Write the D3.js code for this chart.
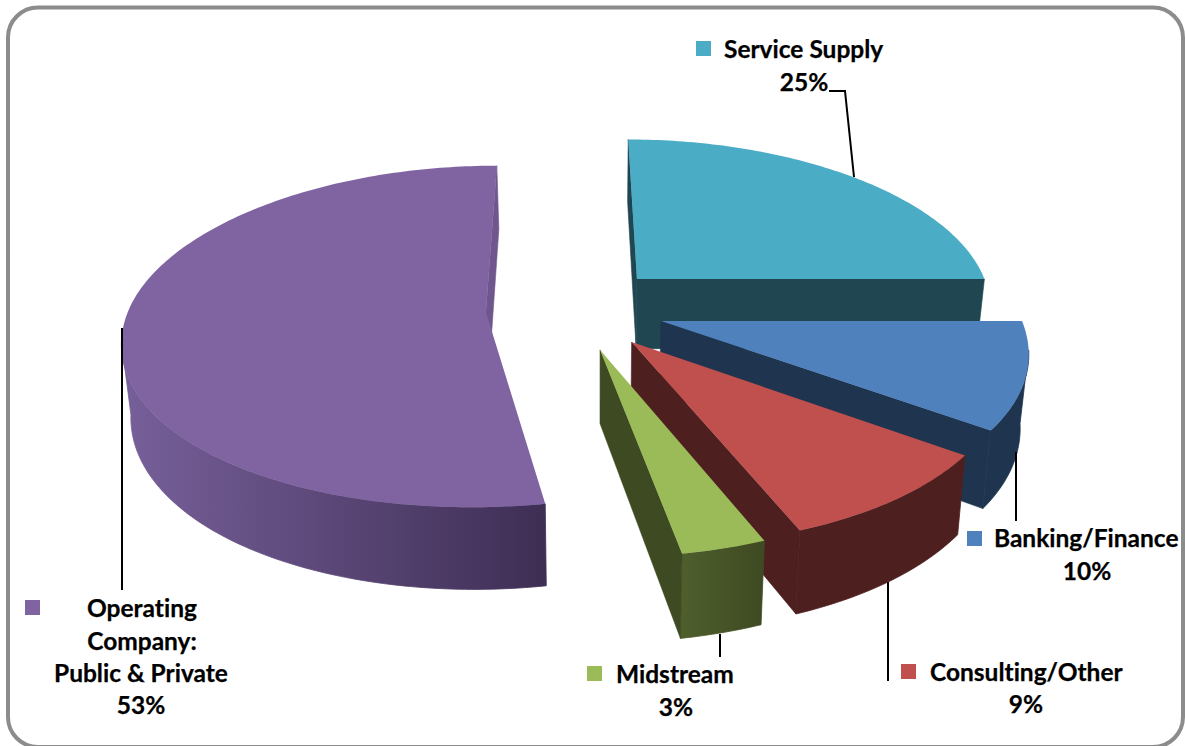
<!DOCTYPE html>
<html><head><meta charset="utf-8">
<script src="https://cdn.jsdelivr.net/npm/d3@7"></script>
<style>html,body{margin:0;padding:0;background:#fff;overflow:hidden}svg{display:block}text{font-family:Lato,sans-serif;font-weight:700;fill:#000;stroke:#000;stroke-width:.25px;font-variant-ligatures:none;font-feature-settings:"liga" 0}</style>
</head><body><svg id="c" width="1185" height="746"></svg>
<script>
// Data (clockwise from 12 o'clock)
const categories = ["Service Supply","Banking/Finance","Consulting/Other","Midstream","Operating Company: Public & Private"];
const shares = [25,10,9,3.2,52.8];
const topColors = ["#4BACC6","#4F81BD","#C0504D","#9BBB59","#8064A2"];
const wallColors = ["#1F4651","#1F344F","#4E1F1F","#3E4A22","#6F578E"];
const sideLeft  = ["#1F4651","#1F344F","#4E1F1F","#4E5E2C","#77609A"];
const sideRight = ["#1F4651","#1F344F","#4E1F1F","#3E4A22","#3E2E54"];
// Explosion of each slice on the pie plane
const explodeX = [41.5,64,34,3,-112];
const explodeZ = [-92,0,44,60,-19];

// Camera
const vx=597, vy=-1000, K=1321, f=2800, Rx=361, Rz=365, backZ=0.97, H=72, lean=0.02, shear=0.012;
const widen = d3.scaleLinear().domain([-800,321]).range([0,1]);
const project = (x,z,down) => {
  const s=f/(f-z);
  const sy=vy+K*s;
  const sx=vx+x*widen(sy);
  return down ? [sx-(sx-vx)*lean, sy+H*s] : [sx,sy];
};
const line=d3.line();
const svg=d3.select("#c");
const defs=svg.append("defs");

svg.append("rect").attr("x",8).attr("y",7.5).attr("width",1175).attr("height",739.5).attr("rx",30)
  .attr("fill","#fff").attr("stroke","#8C8C8C").attr("stroke-width",4);

const arcs=d3.pie().sort(null).value(d=>d)(shares);
const order=[4,0,1,2,3];
const g=svg.append("g");
order.forEach(i=>{
  const a=arcs[i], ox=explodeX[i], oz=explodeZ[i];
  const pt=(t,down)=>{
    const c=Math.cos(t);
    const lz=-Rz*c*(c>0?backZ:1);
    return project(ox+Rx*Math.sin(t)+shear*lz, oz+lz, down);
  };
  const apex=down=>project(ox,oz,down);
  const n=Math.max(8,Math.ceil((a.endAngle-a.startAngle)*60));
  const ts=d3.range(n+1).map(k=>a.startAngle+(a.endAngle-a.startAngle)*k/n);
  const front=ts.filter(t=>Math.sin(t)*(-ox-Rx*Math.sin(t))-Math.cos(t)*(f-oz+Rz*Math.cos(t))>0);
  const xs=front.map(t=>pt(t,false)[0]);
  const grad=defs.append("linearGradient").attr("id","side"+i).attr("gradientUnits","userSpaceOnUse")
    .attr("x1",d3.min(xs)).attr("x2",d3.max(xs)).attr("y1",0).attr("y2",0);
  grad.append("stop").attr("offset",0).attr("stop-color",sideLeft[i]);
  grad.append("stop").attr("offset",1).attr("stop-color",sideRight[i]);
  // curved rim, only where it faces the camera
  if(front.length>1){
    const rim=front.map(t=>pt(t,false)).concat(front.slice().reverse().map(t=>pt(t,true)));
    g.append("path").attr("d",line(rim)+"Z").attr("fill",`url(#side${i})`).attr("stroke",`url(#side${i})`).attr("stroke-width",.8);
  }
  // radial walls, back-facing ones skipped
  [a.startAngle,a.endAngle].forEach((t,e)=>{
    const nx=(e?1:-1)*Math.cos(t), nz=(e?1:-1)*Math.sin(t);
    if(nx*(-ox)+nz*(f-oz)<=0) return;
    g.append("path").attr("d",line([apex(false),pt(t,false),pt(t,true),apex(true)])+"Z")
      .attr("fill",wallColors[i]).attr("stroke",wallColors[i]).attr("stroke-width",.6);
  });
  // top face
  const top=[apex(false)].concat(ts.map(t=>pt(t,false)));
  g.append("path").attr("d",line(top)+"Z").attr("fill",topColors[i]);
});

// Leader lines
const leaders=[[[829,91],[845,91],[854,177]],[[1016,452],[1016,521]],[[888,582],[888,681]],[[720,634],[720,657]],[[122,328],[122,590]]];
leaders.forEach(p=>g.append("path").attr("d",line(p)).attr("fill","none").attr("stroke","#000").attr("stroke-width",2));

// Labels
const FS=24.5;
const keys=[[696,41],[967,531],[901,664],[587,666],[25,600]];
keys.forEach((k,i)=>svg.append("rect").attr("x",k[0]).attr("y",k[1]).attr("width",15).attr("height",15).attr("fill",topColors[i]));
const labelText=[
 ["Service Supply",724,58,"start"],["25%",804,91,"middle"],
 ["Banking/Finance",994,547,"start"],["10%",1087,580,"middle"],
 ["Consulting/Other",930,681,"start"],["9%",1026,713,"middle"],
 ["Midstream",616,683,"start"],["3%",676,716,"middle"],
 ["Operating",142,617,"middle"],["Company:",142,650,"middle"],["Public & Private",141,682,"middle"],["53%",141,714,"middle"]];
labelText.forEach(l=>svg.append("text").attr("x",l[1]).attr("y",l[2]).attr("text-anchor",l[3]).attr("font-size",FS).text(l[0]));
</script></body></html>
